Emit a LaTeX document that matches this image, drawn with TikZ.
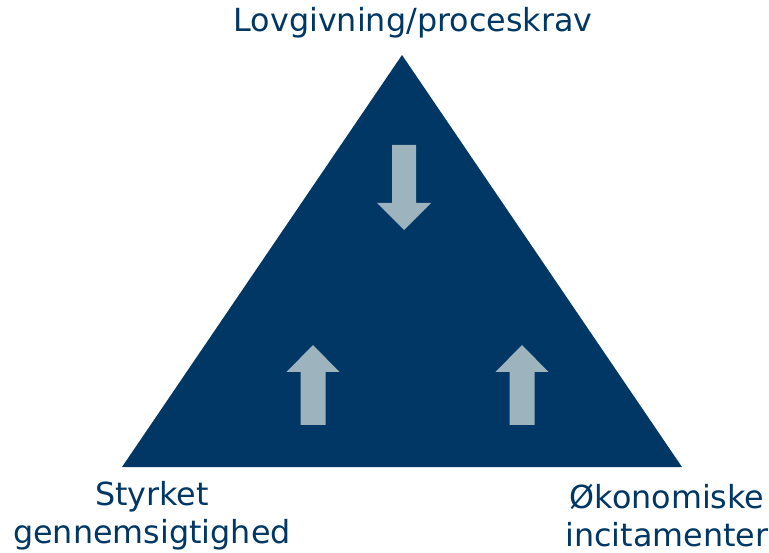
\documentclass[tikz,border=0pt]{standalone}
\usepackage{fontspec}
\setmainfont{DejaVu Sans}
\definecolor{navy}{HTML}{003764}
\definecolor{paleblue}{HTML}{9DB3BE}

\begin{document}
\begin{tikzpicture}[x = 1pt, y = -1pt,
    label/.style = {text = navy, align = center, inner sep = 0pt,
        font = \fontsize{31.8}{38}\selectfont},
    arrowbody/.style = {fill = paleblue, draw = none}]
    \useasboundingbox (0,0) rectangle (769,553);
    % triangle
    \fill[navy] (402,55) coordinate (top) -- (682,467) coordinate (right)
        -- (122,467) coordinate (left) -- cycle;
    % arrows
    \fill[arrowbody] (392,145) -- (416,145) -- (416,203) -- (431,203)
        -- (404,230) -- (377,203) -- (392,203) -- cycle;
    \foreach \cx in {313, 522}
        \fill[arrowbody] (\cx-12.5,425) -- (\cx+12.5,425) -- (\cx+12.5,372)
            -- (\cx+26.5,372) -- (\cx,345) -- (\cx-26.5,372)
            -- (\cx-12.5,372) -- cycle;
    % labels
    \node[label] (lov) at (413,23) {Lovgivning/proceskrav};
    \node[label] (styrket) at (152,516) {Styrket\\gennemsigtighed};
    \node[label] (okonomi) at (667,516) {Økonomiske\\incitamenter};
\end{tikzpicture}
\end{document}
